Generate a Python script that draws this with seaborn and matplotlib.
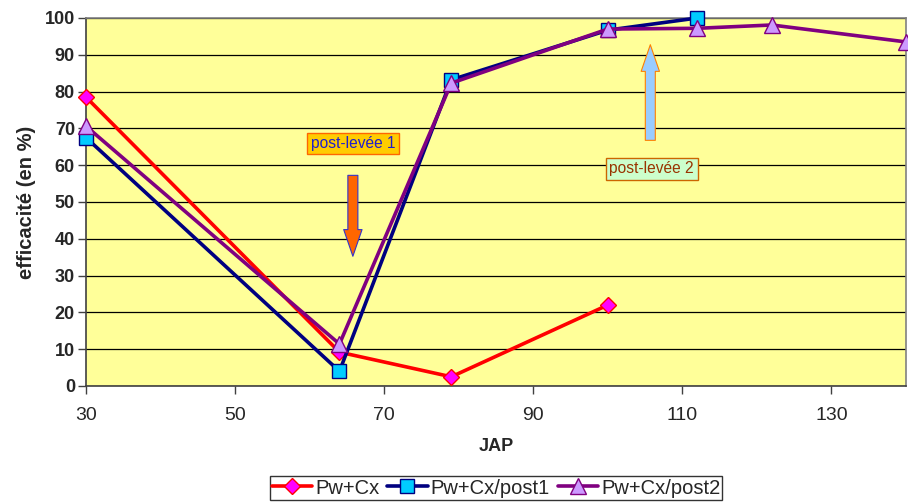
import matplotlib
matplotlib.use("Agg")
import matplotlib.pyplot as plt
import seaborn as sns
import pandas as pd

# Days after planting (JAP) and efficacy (%) per treatment
jap_pwcx = [30, 64, 79, 100]
eff_pwcx = [78.5, 9.2, 2.5, 22]

jap_post1 = [30, 64, 79, 100, 112]
eff_post1 = [67.5, 4.0, 83.2, 96.7, 100]

jap_post2 = [30, 64, 79, 100, 112, 122, 140]
eff_post2 = [70.6, 11.4, 82.3, 97.0, 97.2, 98.1, 93.5]

series_names = ["Pw+Cx", "Pw+Cx/post1", "Pw+Cx/post2"]
yticks = list(range(0, 101, 10))
xticks = [30, 50, 70, 90, 110, 130]

sns.set_theme(style="white")
plt.rcParams["font.family"] = ["Liberation Sans", "DejaVu Sans"]

fig = plt.figure(figsize=(9.08, 5.03), dpi=100)
ax = fig.add_axes([86 / 908, 1 - 386 / 503, (906 - 86) / 908, (386 - 18) / 503])
ax.set_facecolor("#FFFF99")

styles = [
    dict(color="#FF0000", marker="D", mfc="#FF00FF", mec="#FF0000", ms=8),
    dict(color="#000080", marker="s", mfc="#00CCFF", mec="#000080", ms=10),
    dict(color="#800080", marker="^", mfc="#CC99FF", mec="#800080", ms=12),
]
data = [(jap_pwcx, eff_pwcx), (jap_post1, eff_post1), (jap_post2, eff_post2)]

for name, (xs, ys), st in zip(series_names, data, styles):
    df = pd.DataFrame({"JAP": xs, "eff": ys})
    sns.lineplot(data=df, x="JAP", y="eff", ax=ax, color=st["color"], lw=2.6,
                 marker=st["marker"], markersize=st["ms"],
                 markerfacecolor=st["mfc"], markeredgecolor=st["mec"],
                 markeredgewidth=1.0, label=name, clip_on=False, zorder=3)

ax.set_xlim(30, 140)
ax.set_ylim(0, 100)
ax.set_xticks(xticks)
ax.set_yticks(yticks)
ax.yaxis.grid(True, color="black", lw=0.9)
ax.xaxis.grid(False)
for side in ["top", "right"]:
    ax.spines[side].set_color("#808080")
    ax.spines[side].set_linewidth(1.2)
for side in ["left", "bottom"]:
    ax.spines[side].set_color("#404040")
    ax.spines[side].set_linewidth(1.2)
ax.tick_params(axis="both", which="both", direction="out", length=6, width=1,
               color="#404040", left=True, bottom=True)
ax.tick_params(axis="x", labelsize=14, pad=9)
ax.tick_params(axis="y", labelsize=13, pad=2)
for lab in ax.get_yticklabels():
    lab.set_fontweight("bold")

ax.set_xlabel("JAP", fontsize=13, fontweight="bold", labelpad=10)
ax.set_ylabel("efficacité (en %)", fontsize=14.5, fontweight="bold", labelpad=6)

# Treatment markers
ax.annotate("", xy=(65.8, 34.5), xytext=(65.8, 58),
            arrowprops=dict(arrowstyle="simple,head_width=1.1,head_length=1.6,tail_width=0.6",
                            fc="#FF6600", ec="#3333CC", lw=0.8), zorder=4)
ax.text(65.8, 65.9, "post-levée 1", fontsize=11.2, color="#1F1FCC",
        ha="center", va="center", zorder=5,
        bbox=dict(boxstyle="square,pad=0.22", fc="#FFCC00", ec="#FF6600", lw=1))

ax.annotate("", xy=(105.7, 93.5), xytext=(105.7, 66),
            arrowprops=dict(arrowstyle="simple,head_width=1.1,head_length=1.6,tail_width=0.6",
                            fc="#99CCFF", ec="#FF8000", lw=0.8), zorder=4)
ax.text(105.9, 59.0, "post-levée 2", fontsize=11.2, color="#993300",
        ha="center", va="center", zorder=5,
        bbox=dict(boxstyle="square,pad=0.22", fc="#CCFFCC", ec="#CC6600", lw=1))

ax.get_legend().remove()
handles, labels = ax.get_legend_handles_labels()
leg = fig.legend(handles, labels, loc="center", bbox_to_anchor=(496 / 908, 1 - 488 / 503),
                 ncol=3, fontsize=14.5, frameon=True, fancybox=False, handlelength=2.0,
                 handletextpad=0.15, columnspacing=0.4, borderpad=0.1, borderaxespad=0)
leg.get_frame().set_edgecolor("black")
leg.get_frame().set_linewidth(1)

fig.savefig("out.png", dpi=100, facecolor="white")
